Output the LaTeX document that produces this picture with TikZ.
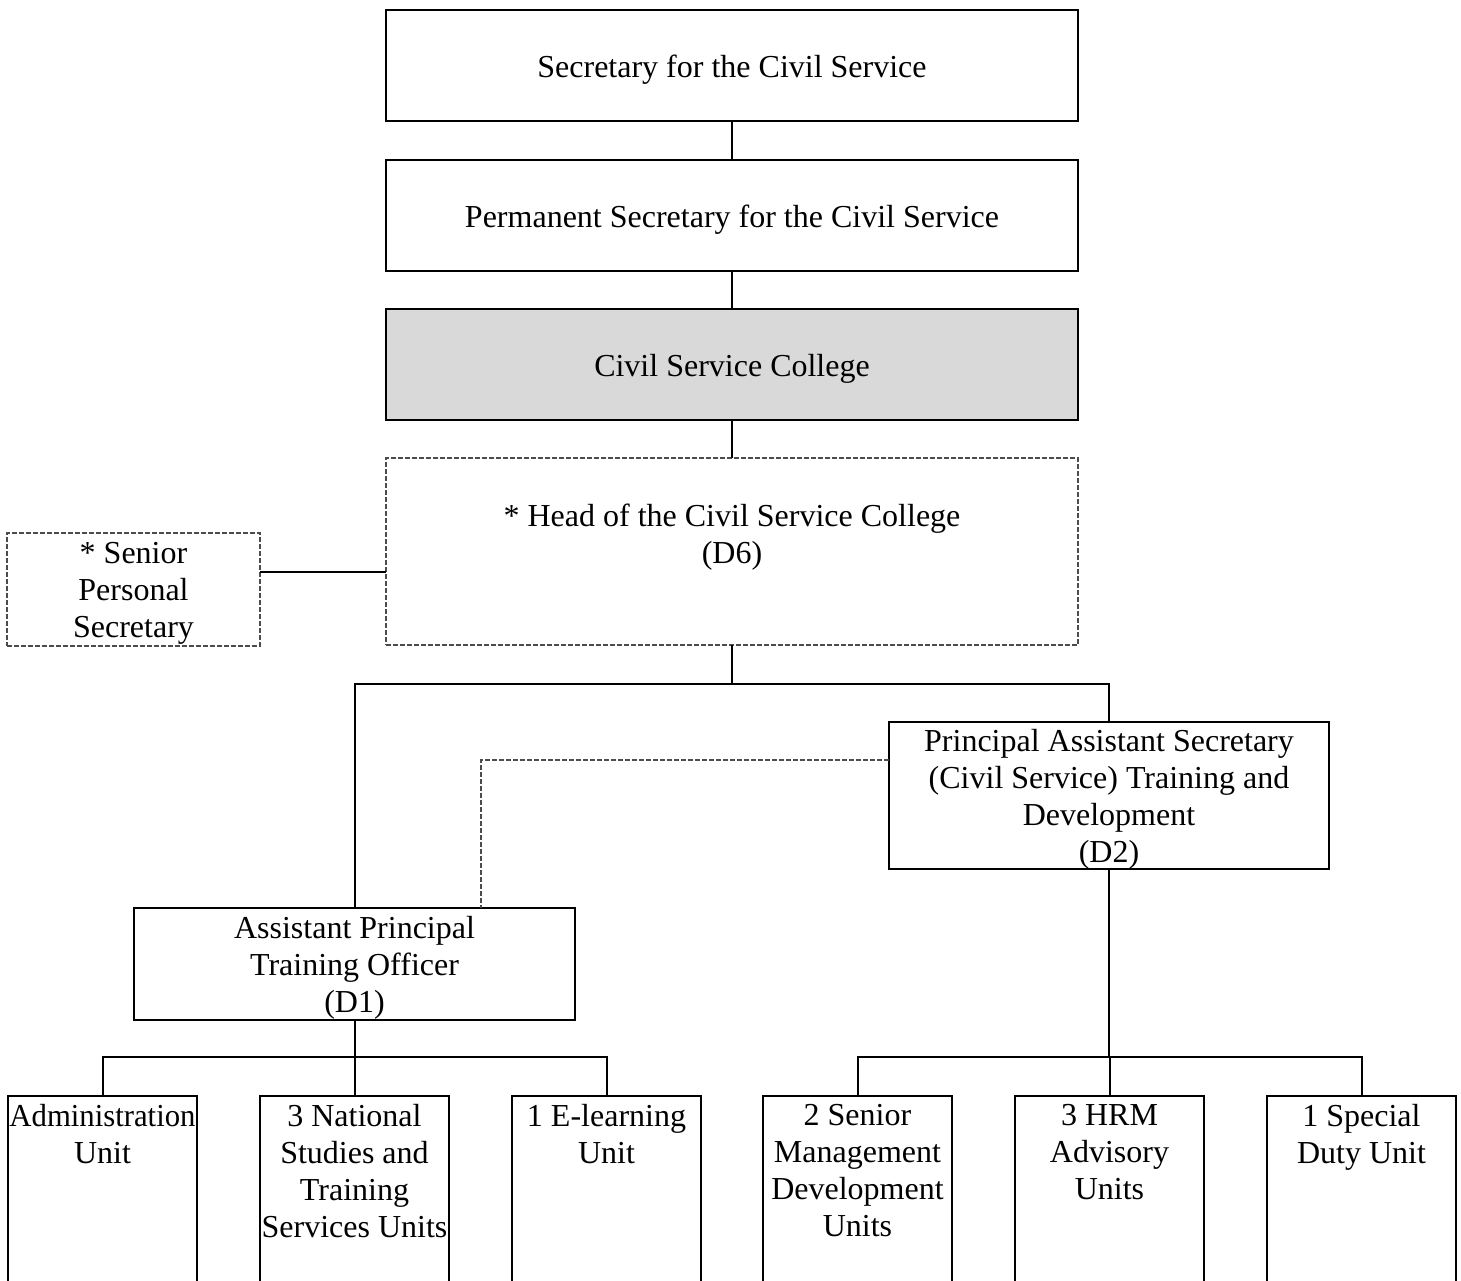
\documentclass[tikz,border=0pt]{standalone}
\usepackage{fontspec}
\setmainfont{Liberation Serif}
\begin{document}
\begin{tikzpicture}[x=1pt,y=-1pt,
  every node/.style={font=\fontsize{32}{37}\selectfont, align=center, outer sep=0pt, inner sep=0pt},
  box/.style={draw=black, line width=2pt},
  dbox/.style={draw=black!70, line width=1.2pt, dash pattern=on 5pt off 2pt},
  conn/.style={draw=black, line width=2pt},
  dconn/.style={draw=black!70, line width=1.2pt, dash pattern=on 5pt off 2pt},
  unit/.style={box, minimum width=189pt, minimum height=204pt},
  txt/.style={yshift=-4pt}
]
\useasboundingbox (0,0) rectangle (1461,1281);
\clip (0,0) rectangle (1461,1281);
% top chain
\node[box, minimum width=692pt, minimum height=111pt] (b1) at (732,65.5) {};
\node[txt] (b1t) at (b1.center) {Secretary for the Civil Service};
\node[box, minimum width=692pt, minimum height=111pt] (b2) at (732,215.5) {};
\node[txt] (b2t) at (b2.center) {Permanent Secretary for the Civil Service};
\node[box, fill=black!15, minimum width=692pt, minimum height=111pt] (b3) at (732,364.5) {};
\node[txt] (b3t) at (b3.center) {Civil Service College};
\node[dbox, minimum width=692pt, minimum height=187pt] (head) at (732,551.5) {};
\node[txt] (headtext) at (732,533.5) {* Head of the Civil Service College\\(D6)};
\node[dbox, minimum width=253pt, minimum height=113pt] (sps) at (133.5,589.5) {};
\node[txt] (spst) at (sps.center) {* Senior\\Personal\\Secretary};
% second level
\node[box, minimum width=440pt, minimum height=147pt] (pas) at (1109,795.5) {};
\node[txt] (past) at (pas.center) {Principal Assistant Secretary\\(Civil Service) Training and\\Development\\(D2)};
\node[box, minimum width=441pt, minimum height=112pt] (apto) at (354.5,964) {};
\node[txt] (aptot) at (apto.center) {Assistant Principal\\Training Officer\\(D1)};
% units
\node[unit] (u1) at (102.5,1198) {};
\node[unit] (u2) at (354.5,1198) {};
\node[unit] (u3) at (606.5,1198) {};
\node[unit] (u4) at (857.5,1198) {};
\node[unit] (u5) at (1109.5,1198) {};
\node[unit] (u6) at (1361.5,1198) {};
\node[anchor=north] (t1) at (102.5,1104) {\addfontfeature{FakeStretch=0.96}Administration\\Unit};
\node[anchor=north] (t2) at (354.5,1104) {3 National\\Studies and\\Training\\Services Units};
\node[anchor=north] (t3) at (606.5,1104) {1 E-learning\\Unit};
\node[anchor=north] (t4) at (857.5,1104) {2 Senior\\Management\\Development\\Units};
\node[anchor=north] (t5) at (1109.5,1104) {3 HRM\\Advisory\\Units};
\node[anchor=north] (t6) at (1361.5,1104) {1 Special\\Duty Unit};
% connectors
\draw[conn] (b1.south) -- (b2.north);
\draw[conn] (b2.south) -- (b3.north);
\draw[conn] (b3.south) -- (head.north);
\coordinate (sj) at (300,572);
\draw[conn] (sps.east |- sj) -- (head.west |- sj);
\coordinate (hj) at (732,684);
\draw[conn] (head.south) -- (hj);
\draw[conn] (apto.north) -- (apto.north |- hj) -- (pas.north |- hj) -- (pas.north);
\coordinate (dl) at (481,760);
\draw[dconn] (pas.west |- dl) -- (dl) -- (dl |- apto.north);
\coordinate (lj) at (354.5,1057);
\draw[conn] (apto.south) -- (lj);
\draw[conn] (u1.north) -- (u1.north |- lj) -- (u3.north |- lj) -- (u3.north);
\draw[conn] (u2.north) -- (u2.north |- lj);
\coordinate (rj) at (1109,1057);
\draw[conn] (pas.south) -- (rj);
\draw[conn] (u4.north) -- (u4.north |- rj) -- (u6.north |- rj) -- (u6.north);
\draw[conn] (u5.north) -- (u5.north |- rj);
\end{tikzpicture}
\end{document}
